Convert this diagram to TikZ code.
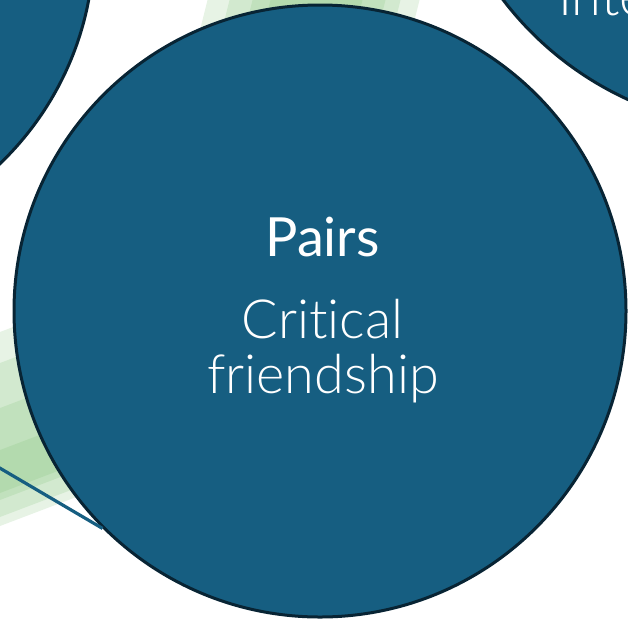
\documentclass[tikz,border=0pt]{standalone}
\usepackage{fontspec}
\newfontfamily\lightfont{Lato Light}[Ligatures=NoCommon]
\newfontfamily\medfont{Lato}[Ligatures=NoCommon]
\definecolor{circfill}{RGB}{22,94,129}
\definecolor{circline}{RGB}{8,36,52}
\definecolor{beam}{RGB}{110,185,100}
\begin{document}
\begin{tikzpicture}[x=1pt,y=-1pt,
  bubble/.style={circle, draw=circline, line width=3pt, fill=circfill, inner sep=0pt},
  beamlayer/.style={fill=beam, fill opacity=0.17, draw=none},
  linkline/.style={draw=circfill, line width=3.2pt},
  title/.style={text=white, anchor=base, font=\medfont\fontsize{54}{60}\selectfont, inner sep=0pt},
  body/.style={text=white, anchor=base, font=\lightfont\fontsize{54}{60}\selectfont, inner sep=0pt}]
\useasboundingbox (0,0) rectangle (628,619);
% green beams
\foreach \a/\b in {332/526, 363/517, 408/500, 450/493}{
  \fill[beamlayer] (-20,{\a+7.6}) -- (250,{\a-95}) -- (250,{\b-95}) -- (-20,{\b+7.6}) -- cycle;
}
\foreach \a/\b in {205/417, 227/398, 250/383, 268/360}{
  \fill[beamlayer] ({\a+7.5},-20) -- ({\b+7.5},-20) -- ({\b-60},250) -- ({\a-60},250) -- cycle;
}
% circles
\node[bubble, minimum size=612pt] (tl) at (-212,-57) {};
\node[bubble, minimum size=656pt] (tr) at (764,-199) {};
\node[bubble, minimum size=612pt] (main) at (320,311) {};
% connector
\coordinate (linkstart) at (-10,462.3);
\draw[linkline] (linkstart) -- (main.225);
% texts
\node[title] (pairs) at (322.5,256.7) {Pairs};
\node[body] (crit) at (322.5,338) {Cri\kern0pt tical};
\node[body] (friend) at (323,393) {friendship};
\node[body, anchor=base west] (inte) at (558,15) {Inte};
\end{tikzpicture}
\end{document}
